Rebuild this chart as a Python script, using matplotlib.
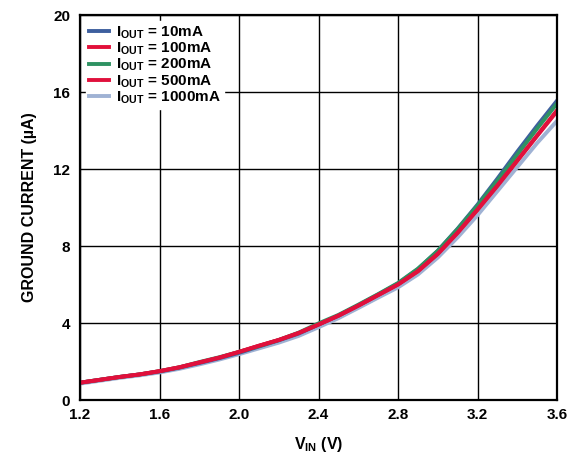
import matplotlib.pyplot as plt
import numpy as np

# Input voltage (V)
vin = [1.2, 1.3, 1.4, 1.5, 1.6, 1.7, 1.8, 1.9, 2.0, 2.1, 2.2, 2.3, 2.4,
       2.5, 2.6, 2.7, 2.8, 2.9, 3.0, 3.1, 3.2, 3.3, 3.4, 3.5, 3.6]

# Ground current (uA) for each load
i_10ma = [0.90, 1.05, 1.20, 1.33, 1.48, 1.68, 1.92, 2.17, 2.45, 2.78, 3.10, 3.45, 3.92,
          4.38, 4.92, 5.48, 6.05, 6.80, 7.75, 8.90, 10.15, 11.50, 12.90, 14.25, 15.55]
i_100ma = [0.90, 1.05, 1.20, 1.33, 1.50, 1.70, 1.95, 2.20, 2.50, 2.82, 3.12, 3.48, 3.92,
           4.38, 4.90, 5.45, 6.00, 6.70, 7.60, 8.70, 9.90, 11.15, 12.45, 13.75, 15.05]
i_200ma = [0.90, 1.05, 1.20, 1.33, 1.50, 1.70, 1.97, 2.22, 2.50, 2.80, 3.12, 3.50, 3.98,
           4.42, 4.95, 5.50, 6.08, 6.82, 7.75, 8.88, 10.10, 11.40, 12.75, 14.10, 15.40]
i_500ma = [0.90, 1.05, 1.20, 1.33, 1.50, 1.70, 1.95, 2.20, 2.50, 2.82, 3.12, 3.48, 3.92,
           4.38, 4.90, 5.45, 6.00, 6.68, 7.58, 8.68, 9.88, 11.12, 12.42, 13.72, 15.00]
i_1000ma = [0.85, 1.00, 1.15, 1.28, 1.43, 1.62, 1.85, 2.10, 2.38, 2.68, 2.98, 3.33, 3.78,
            4.25, 4.78, 5.32, 5.85, 6.52, 7.40, 8.45, 9.60, 10.85, 12.10, 13.35, 14.50]

labels = ['I$_{\\mathbf{OUT}}$ = 10mA', 'I$_{\\mathbf{OUT}}$ = 100mA', 'I$_{\\mathbf{OUT}}$ = 200mA',
          'I$_{\\mathbf{OUT}}$ = 500mA', 'I$_{\\mathbf{OUT}}$ = 1000mA']
colors = ['#3d5f9e', '#e2103a', '#2e9262', '#e0103c', '#9fb2d4']

plt.rcParams['font.family'] = 'Liberation Sans'
plt.rcParams['font.weight'] = 'bold'
plt.rcParams['mathtext.fontset'] = 'custom'
plt.rcParams['mathtext.rm'] = 'Liberation Sans:bold'
plt.rcParams['mathtext.bf'] = 'Liberation Sans:bold'
plt.rcParams['mathtext.default'] = 'bf'

fig = plt.figure(figsize=(5.81, 4.54), dpi=100)
ax = fig.add_axes([0.1377, 0.1189, 0.821, 0.848])

series = [i_10ma, i_100ma, i_200ma, i_500ma, i_1000ma]
# draw light blue first so the others sit on top
order = [4, 0, 2, 1, 3]
lines = {}
for k in order:
    ln, = ax.plot(vin, series[k], color=colors[k], linewidth=2.8, label=labels[k])
    lines[k] = ln

ax.set_xlim(1.2, 3.6)
ax.set_ylim(0, 20)
ax.set_xticks(np.arange(1.2, 3.61, 0.4))
ax.set_xticklabels(['1.2', '1.6', '2.0', '2.4', '2.8', '3.2', '3.6'])
ax.set_yticks([0, 4, 8, 12, 16, 20])
ax.tick_params(axis='x', length=0, labelsize=11, pad=6)
ax.tick_params(axis='y', length=0, labelsize=11, pad=7)
ax.grid(True, color='black', linewidth=1.0)
ax.set_axisbelow(True)
for s in ax.spines.values():
    s.set_linewidth(1.6)

ax.set_xlabel('V$_{\\mathbf{IN}}$ (V)', fontsize=11.5, fontweight='bold', labelpad=9)
ax.set_ylabel('GROUND CURRENT (\u00b5A)', fontsize=11.5, fontweight='bold', labelpad=12)

leg = ax.legend([lines[k] for k in range(5)], labels, loc='upper left', fontsize=11,
                frameon=True, fancybox=False, edgecolor='white', facecolor='white', framealpha=1,
                handlelength=1.3, handletextpad=0.45, labelspacing=0.0, borderpad=0.2,
                borderaxespad=0.4)
for t in leg.get_texts():
    t.set_fontweight('bold')

plt.savefig('out.png', dpi=100)
